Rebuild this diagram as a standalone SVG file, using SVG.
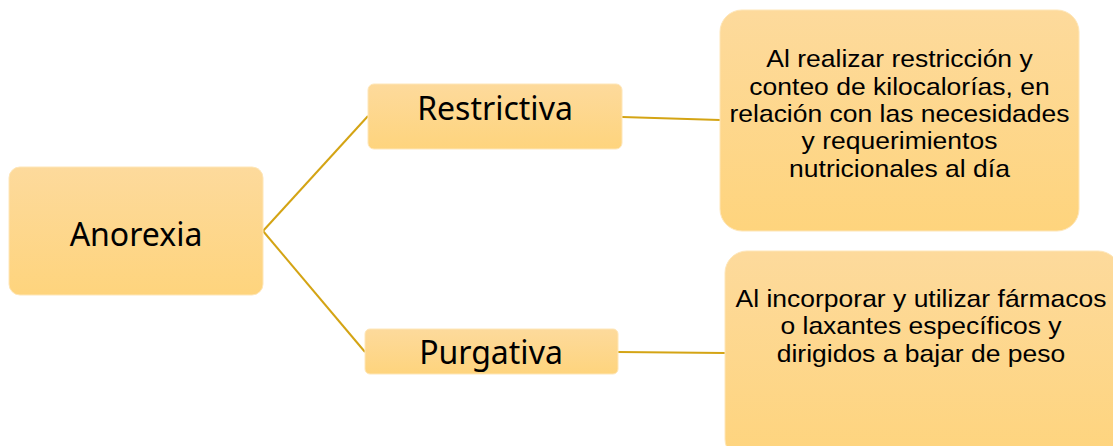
<svg xmlns="http://www.w3.org/2000/svg" width="1113" height="446" viewBox="0 0 1113 446">
<defs>
<linearGradient id="g" x1="0" y1="0" x2="0" y2="1">
<stop offset="0" stop-color="#FDDA9C"/>
<stop offset="1" stop-color="#FED47D"/>
</linearGradient>
<style>
.box{fill:url(#g);stroke:#FEE6B8;stroke-width:1}
.big{font-family:"Noto Sans","Open Sans",sans-serif;font-size:32px;fill:#000;text-anchor:middle}
.sm{font-family:"Liberation Sans",Arial,sans-serif;font-size:24px;fill:#000;text-anchor:middle}
.ln{stroke:#D4A414;stroke-width:2;fill:none}
</style>
</defs>
<rect width="1113" height="446" fill="#fff"/>
<g id="connectors">
<line class="ln" x1="263" y1="231" x2="368" y2="116"/>
<line class="ln" x1="263" y1="231" x2="365" y2="352"/>
<line class="ln" x1="622" y1="117" x2="720" y2="120"/>
<line class="ln" x1="618" y1="352" x2="725" y2="353"/>
</g>
<g id="anorexia">
<rect class="box" x="9" y="167" width="254" height="128" rx="11"/>
<text class="big" x="136" y="246">Anorexia</text>
</g>
<g id="restrictiva">
<rect class="box" x="368" y="84" width="254" height="65" rx="6"/>
<text class="big" x="495" y="120">Restrictiva</text>
</g>
<g id="purgativa">
<rect class="box" x="365" y="329" width="253" height="45" rx="5"/>
<text class="big" x="491" y="364">Purgativa</text>
</g>
<g id="restrictiva-desc">
<rect class="box" x="720" y="10" width="359" height="221" rx="22"/>
<g transform="translate(899.5,0) scale(1.104,1)">
<text class="sm" x="0" y="67">Al realizar restricción y</text>
<text class="sm" x="0" y="95">conteo de kilocalorías, en</text>
<text class="sm" x="0" y="122">relación con las necesidades</text>
<text class="sm" x="0" y="149">y requerimientos</text>
<text class="sm" x="0" y="177">nutricionales al día</text>
</g>
</g>
<g id="purgativa-desc">
<rect class="box" x="725" y="251" width="395" height="210" rx="22"/>
<g transform="translate(921,0) scale(1.104,1)">
<text class="sm" x="0" y="307">Al incorporar y utilizar fármacos</text>
<text class="sm" x="0" y="334">o laxantes específicos y</text>
<text class="sm" x="0" y="362">dirigidos a bajar de peso</text>
</g>
</g>
</svg>
